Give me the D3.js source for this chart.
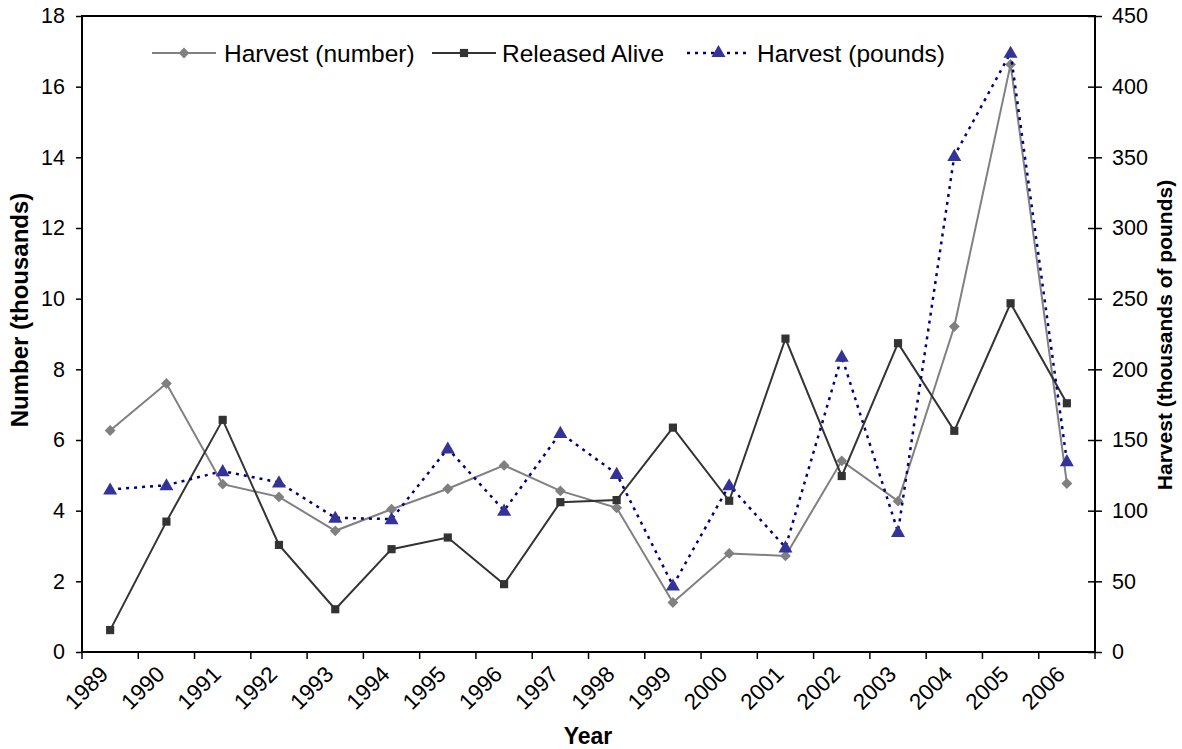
<!DOCTYPE html>
<html>
<head>
<meta charset="utf-8">
<script src="https://cdn.jsdelivr.net/npm/d3@7"></script>
<style>
  html, body { margin: 0; padding: 0; background: #fff; }
  svg { display: block; font-family: "Liberation Sans", Arial, sans-serif; }
</style>
</head>
<body>
<svg id="chart" width="1182" height="749"></svg>
<script>
const years = ["1989","1990","1991","1992","1993","1994","1995","1996","1997","1998","1999","2000","2001","2002","2003","2004","2005","2006"];
const harvestNumber = [6.27,7.60,4.75,4.39,3.43,4.04,4.62,5.28,4.56,4.08,1.40,2.79,2.72,5.41,4.27,9.21,16.63,4.77];
const releasedAlive = [0.62,3.69,6.57,3.03,1.21,2.91,3.24,1.92,4.24,4.30,6.35,4.28,8.87,4.98,8.74,6.26,9.87,7.04];
const harvestPounds = [115,118,128,120,95,94,144,100,155,126,47,118,74,209,85,351,424,135];
const leftTicks = [0,2,4,6,8,10,12,14,16,18];
const rightTicks = [0,50,100,150,200,250,300,350,400,450];
const seriesNames = ["Harvest (number)","Released Alive","Harvest (pounds)"];

const svg = d3.select("#chart");
const L = 82, R = 1095, T = 16, B = 652;

const x = d3.scaleBand().domain(years).range([L, R]).padding(0);
const yL = d3.scaleLinear().domain([0, 18]).range([B, T]);
const yR = d3.scaleLinear().domain([0, 450]).range([B, T]);
const cx = d => x(d) + x.bandwidth() / 2;

// Left axis
const gL = svg.append("g").attr("transform", `translate(${L},0)`)
  .call(d3.axisLeft(yL).tickValues(leftTicks).tickSize(6).tickPadding(11).tickFormat(d3.format("d")));
gL.select(".domain").remove();
gL.selectAll("line").attr("stroke", "#000").attr("stroke-width", 1.5);
gL.selectAll("text").attr("font-size", 21.5).attr("fill", "#000");

// Right axis (cross ticks)
const gR = svg.append("g").attr("transform", `translate(${R},0)`)
  .call(d3.axisRight(yR).tickValues(rightTicks).tickSize(7).tickPadding(10).tickFormat(d3.format("d")));
gR.select(".domain").remove();
gR.selectAll(".tick line").attr("x1", -7).attr("stroke", "#000").attr("stroke-width", 1.5);
gR.selectAll("text").attr("font-size", 21.5).attr("fill", "#000");

// Bottom ticks at band boundaries
const bounds = years.map(y => x(y)).concat([R]);
svg.append("g").selectAll("line").data(bounds).join("line")
  .attr("x1", d => d).attr("x2", d => d).attr("y1", B).attr("y2", B + 7)
  .attr("stroke", "#000").attr("stroke-width", 1.5);

// X labels
svg.append("g").selectAll("text").data(years).join("text")
  .attr("transform", d => `translate(${cx(d) - 6},${B + 18}) rotate(-45)`)
  .attr("text-anchor", "end").attr("dy", "0.35em")
  .attr("font-size", 22.5).attr("fill", "#000").text(d => d);

// Plot frame
svg.append("rect").attr("x", L).attr("y", T).attr("width", R - L).attr("height", B - T)
  .attr("fill", "none").attr("stroke", "#000").attr("stroke-width", 2);

// Axis titles
svg.append("text").attr("transform", `translate(28,310) rotate(-90)`)
  .attr("text-anchor", "middle").attr("font-size", 24).attr("font-weight", "bold").text("Number (thousands)");
svg.append("text").attr("transform", `translate(1172,335) rotate(-90)`)
  .attr("text-anchor", "middle").attr("font-size", 21).attr("font-weight", "bold").text("Harvest (thousands of pounds)");
svg.append("text").attr("x", 588).attr("y", 744)
  .attr("text-anchor", "middle").attr("font-size", 23).attr("font-weight", "bold").text("Year");

const diamond = d3.symbol().type(d3.symbolDiamond2).size(75)();
const square = d3.symbol().type(d3.symbolSquare2).size(85)();
const tri = d3.symbol().type(d3.symbolTriangle).size(85)();

// Harvest (number)
const lnN = d3.line().x((d, i) => cx(years[i])).y(d => yL(d));
svg.append("path").datum(harvestNumber).attr("d", lnN).attr("fill", "none")
  .attr("stroke", "#808080").attr("stroke-width", 2);
svg.append("g").selectAll("path").data(harvestNumber).join("path")
  .attr("d", diamond).attr("transform", (d, i) => `translate(${cx(years[i])},${yL(d)})`)
  .attr("fill", "#808080");

// Released Alive
svg.append("path").datum(releasedAlive).attr("d", lnN).attr("fill", "none")
  .attr("stroke", "#333333").attr("stroke-width", 2);
svg.append("g").selectAll("path").data(releasedAlive).join("path")
  .attr("d", square).attr("transform", (d, i) => `translate(${cx(years[i])},${yL(d)})`)
  .attr("fill", "#333333");

// Harvest (pounds)
const lnP = d3.line().x((d, i) => cx(years[i])).y(d => yR(d));
svg.append("path").datum(harvestPounds).attr("d", lnP).attr("fill", "none")
  .attr("stroke", "#000080").attr("stroke-width", 2.5).attr("stroke-dasharray", "3,5");
svg.append("g").selectAll("path").data(harvestPounds).join("path")
  .attr("d", tri).attr("transform", (d, i) => `translate(${cx(years[i])},${yR(d) + 1})`)
  .attr("fill", "#333399");

// Legend
const legY = 53;
const leg = [
  { x1: 152, x2: 216, tx: 224, name: seriesNames[0], stroke: "#808080", dash: null, sym: diamond, fill: "#808080", w: 2 },
  { x1: 432, x2: 496, tx: 502, name: seriesNames[1], stroke: "#333333", dash: null, sym: square, fill: "#333333", w: 2 },
  { x1: 687, x2: 750, tx: 757, name: seriesNames[2], stroke: "#000080", dash: "3,5", sym: tri, fill: "#333399", w: 2.5 }
];
const lg = svg.append("g").selectAll("g").data(leg).join("g");
lg.append("line").attr("x1", d => d.x1).attr("x2", d => d.x2).attr("y1", legY).attr("y2", legY)
  .attr("stroke", d => d.stroke).attr("stroke-width", d => d.w).attr("stroke-dasharray", d => d.dash);
lg.append("path").attr("d", d => d.sym).attr("transform", d => `translate(${(d.x1 + d.x2) / 2},${legY})`)
  .attr("fill", d => d.fill);
lg.append("text").attr("x", d => d.tx).attr("y", legY).attr("dy", "0.35em")
  .attr("font-size", 24.5).attr("fill", "#000").text(d => d.name);
</script>
</body>
</html>
